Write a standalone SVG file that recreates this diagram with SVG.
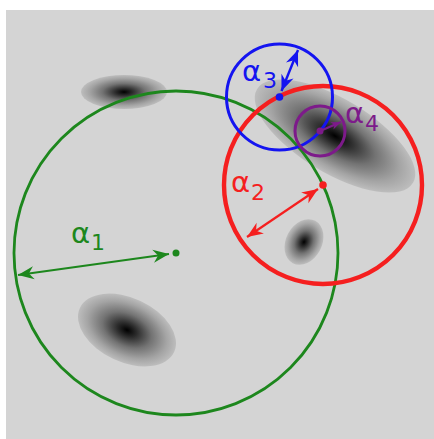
<svg xmlns="http://www.w3.org/2000/svg" width="434" height="439" viewBox="0 0 434 439">
<style>
  .lbl { font-family: "DejaVu Sans", sans-serif; font-size: 29px; }
  .sub { font-size: 22px; }
  .blob { stroke: none; }
</style>
<defs>
  <radialGradient id="g" cx="0.5" cy="0.5" r="0.5">
    <stop offset="0" stop-color="#000"/>
    <stop offset="0.2" stop-color="#2c2c2c"/>
    <stop offset="0.5" stop-color="#737373"/>
    <stop offset="0.8" stop-color="#a4a4a4"/>
    <stop offset="1" stop-color="#bdbdbd"/>
  </radialGradient>
  <marker id="ag" viewBox="-17 -8 18 16" markerWidth="18" markerHeight="16" refX="0" refY="0" orient="auto-start-reverse" markerUnits="userSpaceOnUse"><path d="M0,0 L-16,-6.5 L-11,0 L-16,6.5 Z" fill="#1d871d"/></marker>
  <marker id="ar" viewBox="-17 -8 18 16" markerWidth="18" markerHeight="16" refX="0" refY="0" orient="auto-start-reverse" markerUnits="userSpaceOnUse"><path d="M0,0 L-16,-6.5 L-11,0 L-16,6.5 Z" fill="#f51f1f"/></marker>
  <marker id="ab" viewBox="-17 -8 18 16" markerWidth="18" markerHeight="16" refX="0" refY="0" orient="auto-start-reverse" markerUnits="userSpaceOnUse"><path d="M0,0 L-16,-6.5 L-11,0 L-16,6.5 Z" fill="#1414f0"/></marker>
  <marker id="ap" viewBox="-11 -5 12 10" markerWidth="12" markerHeight="10" refX="0" refY="0" orient="auto" markerUnits="userSpaceOnUse"><path d="M0,0 L-10,-4 L-7,0 L-10,4 Z" fill="#7d1a8a"/></marker>
</defs>
<rect x="6" y="10" width="428" height="429" fill="#d4d4d4"/>
<g id="blobs">
  <ellipse class="blob" cx="124" cy="92" rx="43" ry="17" fill="url(#g)"/>
  <ellipse class="blob" cx="0" cy="0" rx="91" ry="37" fill="url(#g)" transform="translate(335 136) rotate(31)"/>
  <ellipse class="blob" cx="0" cy="0" rx="24" ry="18" fill="url(#g)" transform="translate(304 242) rotate(-62)"/>
  <ellipse class="blob" cx="0" cy="0" rx="52" ry="32" fill="url(#g)" transform="translate(127 330) rotate(25)"/>
</g>
<g id="circle1"><circle cx="176" cy="253" r="162" fill="none" stroke="#1d871d" stroke-width="2.8"/><circle cx="176" cy="253" r="3.5" fill="#1d871d"/></g>
<g id="circle2"><circle cx="323" cy="185" r="99" fill="none" stroke="#f51f1f" stroke-width="4.4"/><circle cx="323" cy="185" r="3.8" fill="#f51f1f"/></g>
<g id="circle3"><circle cx="279.5" cy="97" r="53" fill="none" stroke="#1414f0" stroke-width="3"/><circle cx="279.5" cy="97" r="3.8" fill="#1414f0"/></g>
<g id="circle4"><circle cx="320" cy="131" r="25" fill="none" stroke="#7d1a8a" stroke-width="3"/><circle cx="320" cy="131" r="3.5" fill="#7d1a8a"/></g>
<g id="connectors">
  <line x1="18" y1="275" x2="169" y2="254" stroke="#1d871d" stroke-width="2.2" marker-start="url(#ag)" marker-end="url(#ag)"/>
  <line x1="247" y1="237" x2="318" y2="189" stroke="#f51f1f" stroke-width="2.2" marker-start="url(#ar)" marker-end="url(#ar)"/>
  <line x1="281.5" y1="91" x2="298" y2="50" stroke="#1414f0" stroke-width="2.4" marker-start="url(#ab)" marker-end="url(#ab)"/>
  <line x1="320" y1="131" x2="341" y2="122" stroke="#7d1a8a" stroke-width="2.2" marker-end="url(#ap)"/>
</g>
<g id="labels">
  <text class="lbl" fill="#1d871d"><tspan x="71" y="243">α</tspan><tspan class="sub" x="91" y="250">1</tspan></text>
  <text class="lbl" fill="#f51f1f"><tspan x="231" y="192">α</tspan><tspan class="sub" x="251" y="200">2</tspan></text>
  <text class="lbl" fill="#1414f0"><tspan x="242" y="81">α</tspan><tspan class="sub" x="263" y="88">3</tspan></text>
  <text class="lbl" fill="#7d1a8a"><tspan x="345" y="123">α</tspan><tspan class="sub" x="365" y="131">4</tspan></text>
</g>
</svg>
